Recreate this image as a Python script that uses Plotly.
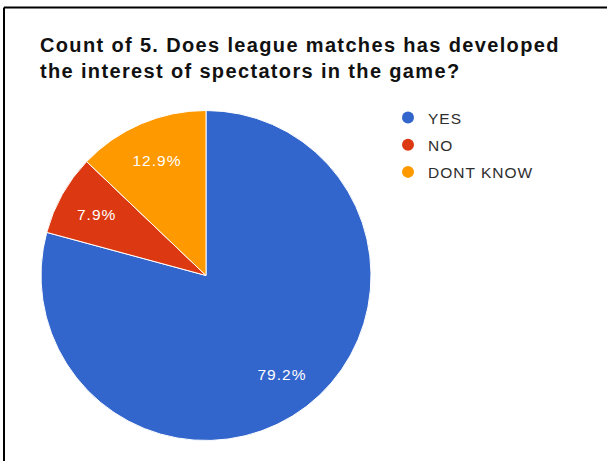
import math
import plotly.graph_objects as go

W, H = 607, 461

# Survey responses (counts) for question 5
labels = ["YES", "NO", "DONT KNOW"]
counts = [80, 8, 13]
colors = ["#3366cc", "#dc3912", "#ff9900"]

title_text = ("Count of 5. Does league matches has developed<br>"
              "the interest of spectators in the game?")

FONT = "Liberation Sans, Arial, sans-serif"

# pie placement in pixels
cx, cy, r = 206, 275.5, 165
dom_x = [(cx - r) / W, (cx + r) / W]
dom_y = [1 - (cy + r) / H, 1 - (cy - r) / H]

fig = go.Figure()

fig.add_trace(go.Pie(
    labels=labels,
    values=counts,
    sort=False,
    direction="clockwise",
    rotation=0,
    marker=dict(colors=colors, line=dict(color="white", width=1)),
    textinfo="none",
    domain=dict(x=dom_x, y=dom_y),
    showlegend=False,
    hoverinfo="label+value+percent",
))

# Percentage labels placed at each slice's mid-angle
total = sum(counts)
annotations = []
cum = 0.0
for v in counts:
    frac = v / total
    mid = (cum + frac / 2) * 2 * math.pi  # clockwise from 12 o'clock
    cum += frac
    px = cx + 0.757 * r * math.sin(mid)
    py = cy - 0.757 * r * math.cos(mid)
    annotations.append(dict(
        x=px / W, y=1 - py / H, xref="paper", yref="paper",
        text=f"{frac * 100:.1f}%", showarrow=False,
        xanchor="center", yanchor="middle",
        font=dict(family=FONT, size=15.5, color="white"),
    ))

# Legend entries drawn with round markers
for lab, col in zip(labels, colors):
    fig.add_trace(go.Scatter(
        x=[None], y=[None], mode="markers", name=lab,
        marker=dict(color=col, size=12, symbol="circle"),
        legendgroup=lab, showlegend=True,
    ))

fig.update_layout(
    width=W, height=H,
    margin=dict(l=0, r=0, t=0, b=0),
    paper_bgcolor="white",
    plot_bgcolor="white",
    xaxis=dict(visible=False),
    yaxis=dict(visible=False),
    title=dict(
        text=title_text,
        x=40 / W, xref="paper", xanchor="left",
        y=1 - 52 / H, yref="paper", yanchor="top",
        font=dict(family=FONT, size=20, color="#111111", weight="bold"),
    ),
    legend=dict(
        x=388 / W, xanchor="left",
        y=1 - 101 / H, yanchor="top",
        font=dict(family=FONT, size=15.5, color="#2e2e2e"),
        tracegroupgap=4,
        bgcolor="rgba(0,0,0,0)",
        itemclick=False, itemdoubleclick=False,
    ),
    annotations=annotations,
    shapes=[
        # frame: left and top edges
        dict(type="line", xref="paper", yref="paper",
             x0=4 / W, x1=4 / W, y0=0, y1=1 - 7.5 / H,
             line=dict(color="black", width=2)),
        dict(type="line", xref="paper", yref="paper",
             x0=4 / W, x1=1, y0=1 - 7.5 / H, y1=1 - 7.5 / H,
             line=dict(color="black", width=2)),
    ],
)

# slightly looser tracking for chart text; let the widened legend text show in full
spacing_js = """
document.querySelectorAll('.gtitle').forEach(function(el){
    el.style.letterSpacing = '1.35px';
});
document.querySelectorAll('.legendtext, .annotation-text').forEach(function(el){
    el.style.letterSpacing = '1px';
});
document.querySelectorAll('.legend .scrollbox').forEach(function(el){
    el.removeAttribute('clip-path');
});
document.querySelectorAll('.legend').forEach(function(el){
    el.style.overflow = 'visible';
});
"""

fig.write_html("out.html", post_script=spacing_js)
